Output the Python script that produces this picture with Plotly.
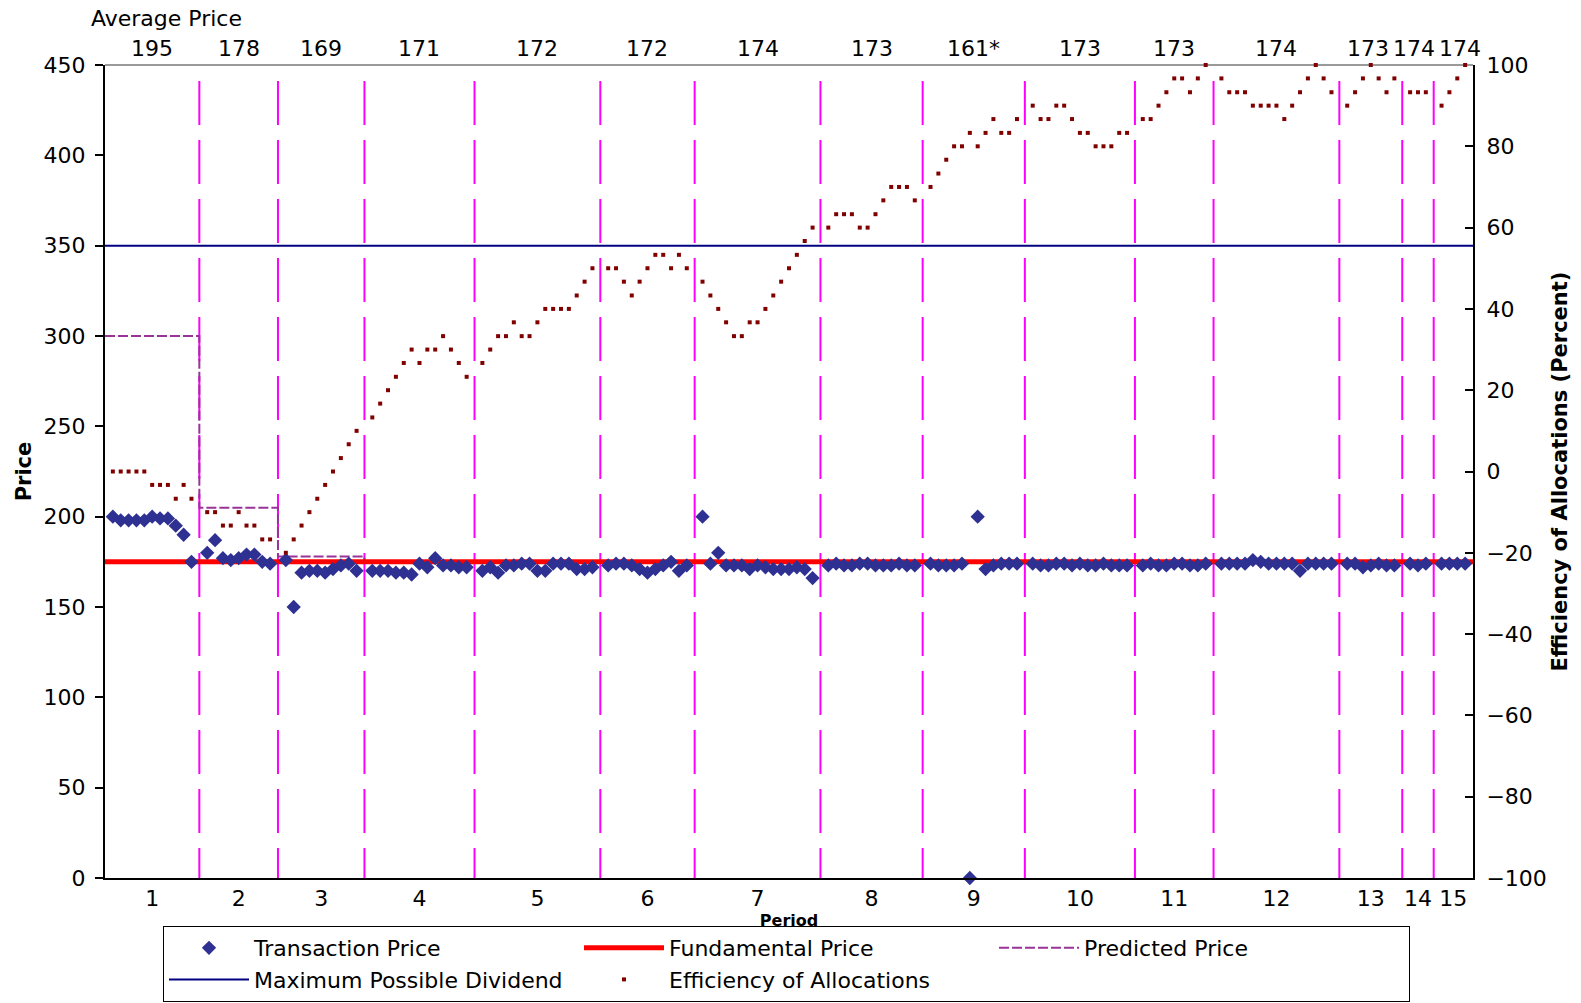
import plotly.graph_objects as go

# ---------------------------------------------------------------------------
# Data: one list per trading period
# ---------------------------------------------------------------------------
period_labels = ["1", "2", "3", "4", "5", "6", "7", "8", "9", "10",
                 "11", "12", "13", "14", "15"]

average_price_labels = ["195", "178", "169", "171", "172", "172", "174", "173",
                        "161*", "173", "173", "174", "173", "174", "174"]

# Transaction prices, in trade order, for each period
transaction_prices = [
    [200, 198, 198, 198, 198, 200, 199, 199, 195, 190, 175],
    [180, 187, 177, 176, 177, 179, 179, 175, 174],
    [176, 150, 169, 170, 170, 169, 171, 173, 174, 170],
    [170, 170, 170, 169, 169, 168, 174, 172, 177, 173, 173, 172, 172],
    [170, 172, 169, 173, 173, 174, 174, 170, 170, 174, 174, 174, 171, 171, 172],
    [173, 174, 174, 173, 171, 169, 171, 173, 175, 170, 173],
    [200, 174, 180, 173, 173, 173, 171, 173, 172, 171, 171, 171, 172, 171, 166],
    [173, 174, 173, 173, 174, 174, 173, 173, 173, 174, 173, 173],
    [174, 173, 173, 173, 174, 0, 200, 171, 173, 174, 174, 174],
    [174, 173, 173, 174, 174, 173, 174, 173, 173, 174, 173, 173, 173],
    [173, 174, 173, 173, 174, 174, 173, 173, 174],
    [174, 174, 174, 174, 176, 175, 174, 174, 174, 174, 170, 174, 174, 174, 174],
    [174, 174, 172, 173, 174, 173, 173],
    [174, 173, 174],
    [174, 174, 174, 174],
]

# Efficiency of allocations (percent) after each trade
efficiency = [
    [0, 0, 0, 0, 0, -3.3, -3.3, -3.3, -6.7, -3.3, -6.7],
    [-10, -10, -13.3, -13.3, -10, -13.3, -13.3, -16.7, -16.7],
    [-20, -16.7, -13.3, -10, -6.7, -3.3, 0, 3.3, 6.7, 10],
    [13.3, 16.7, 20, 23.3, 26.7, 30, 26.7, 30, 30, 33.3, 30, 26.7, 23.3],
    [26.7, 30, 33.3, 33.3, 36.7, 33.3, 33.3, 36.7, 40, 40, 40, 40, 43.3, 46.7, 50],
    [50, 50, 46.7, 43.3, 46.7, 50, 53.3, 53.3, 50, 53.3, 50],
    [46.7, 43.3, 40, 36.7, 33.3, 33.3, 36.7, 36.7, 40, 43.3, 46.7, 50, 53.3, 56.7, 60],
    [60, 63.3, 63.3, 63.3, 60, 60, 63.3, 66.7, 70, 70, 70, 66.7],
    [70, 73.3, 76.7, 80, 80, 83.3, 80, 83.3, 86.7, 83.3, 83.3, 86.7],
    [90, 86.7, 86.7, 90, 90, 86.7, 83.3, 83.3, 80, 80, 80, 83.3, 83.3],
    [86.7, 86.7, 90, 93.3, 96.7, 96.7, 93.3, 96.7, 100],
    [96.7, 93.3, 93.3, 93.3, 90, 90, 90, 90, 86.7, 90, 93.3, 96.7, 100, 96.7, 93.3],
    [90, 93.3, 96.7, 100, 96.7, 93.3, 96.7],
    [93.3, 93.3, 93.3],
    [90, 93.3, 96.7, 100],
]

# Predicted price for each period
predicted_price = [300, 205, 178, 175, 175, 175, 175, 175, 175, 175,
                   175, 175, 175, 175, 175]

fundamental_price = 175
max_possible_dividend = 350

# ---------------------------------------------------------------------------
# Lay trades out on a slot axis; each period boundary takes one empty slot
# ---------------------------------------------------------------------------
trade_x, trade_y, eff_x, eff_y = [], [], [], []
boundaries, centers = [], []
slot = 1
for k, (prices, effs) in enumerate(zip(transaction_prices, efficiency)):
    assert len(prices) == len(effs)
    xs = list(range(slot, slot + len(prices)))
    trade_x += xs
    trade_y += prices
    eff_x += xs
    eff_y += effs
    centers.append((xs[0] + xs[-1]) / 2)
    slot += len(prices)
    if k < len(transaction_prices) - 1:
        boundaries.append(slot)
        slot += 1
x_end = slot

FONT = "DejaVu Sans"
TEXT_SIZE = 22
TITLE_SIZE = 21

W, H = 1581, 1003
M_L, M_R, M_T, M_B = 105, 108, 65, 125
plot_w = W - M_L - M_R
plot_h = H - M_T - M_B

fig = go.Figure()

fig.add_trace(go.Scatter(
    x=[0, x_end], y=[max_possible_dividend] * 2, mode="lines",
    name="Maximum Possible Dividend", legendrank=4,
    line=dict(color="#000080", width=2),
))

step_x = [0] + boundaries + [x_end]
step_y = predicted_price + [predicted_price[-1]]
fig.add_trace(go.Scatter(
    x=step_x, y=step_y, mode="lines", line_shape="hv",
    name="Predicted Price", legendrank=3,
    line=dict(color="#993399", width=2, dash="10px,3px"),
))

fig.add_trace(go.Scatter(
    x=[0, x_end], y=[fundamental_price] * 2, mode="lines",
    name="Fundamental Price", legendrank=2,
    line=dict(color="#FF0000", width=5),
))

fig.add_trace(go.Scatter(
    x=trade_x, y=trade_y, mode="markers",
    name="Transaction Price", legendrank=1, cliponaxis=False,
    marker=dict(symbol="diamond", size=11, color="#2E3192",
                line=dict(width=0)),
))

fig.add_trace(go.Scatter(
    x=eff_x, y=eff_y, mode="markers", yaxis="y2",
    name="Efficiency of Allocations", legendrank=5, cliponaxis=False,
    marker=dict(symbol="square", size=4, color="#800000",
                line=dict(width=0)),
))

# Period boundaries: long magenta dashes across the full plot height
boundary_dash = "1px,15px," + ",".join(["44px,15px"] * 14)
shapes = []
for b in boundaries:
    shapes.append(dict(
        type="line", xref="x", yref="y domain", x0=b, x1=b, y0=1, y1=0,
        line=dict(color="#FF00FF", width=2, dash=boundary_dash), layer="below",
    ))
# upper frame of the plot area
shapes.append(dict(
    type="line", xref="paper", yref="paper", x0=0, x1=1, y0=1, y1=1,
    line=dict(color="#9A9A9A", width=2), layer="below",
))

# Average-price row above the plot: centred on each period, with
# neighbouring labels pushed apart (iteratively) where they would collide.
px_per_slot = plot_w / x_end
label_px = [c * px_per_slot for c in centers]
label_w = [len(t) * 0.64 * TEXT_SIZE for t in average_price_labels]
shift = [0.0] * len(label_px)
for _ in range(60):
    moved = False
    for i in range(len(label_px) - 1):
        a = label_px[i] + shift[i]
        b = label_px[i + 1] + shift[i + 1]
        need = (label_w[i] + label_w[i + 1]) / 2 + 4
        if b - a < need - 0.01:
            d = (need - (b - a)) / 2
            shift[i] -= d
            shift[i + 1] += d
            moved = True
    if not moved:
        break

annotations = [dict(
    text="Average Price", xref="paper", yref="paper", x=-0.012, y=1.057,
    xanchor="left", yanchor="middle", showarrow=False,
    font=dict(family=FONT, size=TEXT_SIZE, color="black"),
)]
for c, s, lbl in zip(centers, shift, average_price_labels):
    annotations.append(dict(
        text=lbl, xref="x", yref="paper", x=c, y=1.02, xshift=s,
        xanchor="center", yanchor="middle", showarrow=False,
        font=dict(family=FONT, size=TEXT_SIZE, color="black"),
    ))

fig.update_layout(
    width=W, height=H,
    margin=dict(l=M_L, r=M_R, t=M_T, b=M_B, autoexpand=False),
    paper_bgcolor="white", plot_bgcolor="white",
    font=dict(family=FONT, size=TEXT_SIZE, color="black"),
    shapes=shapes, annotations=annotations,
    xaxis=dict(
        range=[0, x_end], tickmode="array", tickvals=centers,
        ticktext=period_labels, ticks="", showgrid=False, zeroline=False,
        showline=True, linecolor="black", linewidth=2, automargin=False,
        title=dict(text="<b>Period</b>", standoff=0,
                   font=dict(family=FONT, size=16)),
    ),
    yaxis=dict(
        range=[0, 450], tickmode="linear", tick0=0, dtick=50,
        ticks="outside", ticklen=8, tickwidth=2, tickcolor="black",
        ticklabelstandoff=5, automargin=False,
        showgrid=False, zeroline=False,
        showline=True, linecolor="black", linewidth=2,
        title=dict(text="<b>Price</b>", standoff=6,
                   font=dict(family=FONT, size=TITLE_SIZE)),
    ),
    yaxis2=dict(
        range=[-100, 100], tickmode="linear", tick0=-100, dtick=20,
        overlaying="y", side="right",
        ticks="inside", ticklen=8, tickwidth=2, tickcolor="black",
        ticklabelstandoff=7, automargin=False,
        showgrid=False, zeroline=False,
        showline=True, linecolor="black", linewidth=2,
        title=dict(text="<b>Efficiency of Allocations (Percent)</b>", standoff=6,
                   font=dict(family=FONT, size=TITLE_SIZE)),
    ),
    legend=dict(
        orientation="h", xref="paper", yref="paper",
        x=(163 - M_L) / plot_w, y=-(926 - (H - M_B)) / plot_h,
        xanchor="left", yanchor="top",
        entrywidth=320, entrywidthmode="pixels", itemwidth=80,
        bgcolor="white", bordercolor="black", borderwidth=1,
        font=dict(family=FONT, size=TEXT_SIZE, color="black"),
        traceorder="normal",
    ),
)

fig.write_html("out.html")
